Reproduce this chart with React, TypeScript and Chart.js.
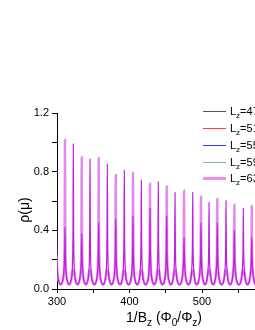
import React, { useEffect, useRef } from 'react';
import { Chart, registerables } from 'chart.js';

Chart.register(...registerables);

const FONT = "'Liberation Sans', Arial, sans-serif";

// Legend
const legendLabels = ['47', '51', '55', '59', '63'];
const legendColors = ['#555555', '#ff3b3b', '#3a3aff', '#6fb7ad', '#f08cf0'];
const legendWidths = [1, 1, 1, 1, 3];

// Tick labels
const xTickLabels = [300, 400, 500];
const yTickLabels = [0, 0.4, 0.8, 1.2];

// Peaks
const lightPeakX = [311.0, 334.1, 357.5, 381.0, 404.8, 428.3, 451.3, 475.2, 498.6, 521.1, 544.6, 568.6, 592.0];
const lightPeakY = [1.016, 0.898, 0.893, 0.777, 0.793, 0.72, 0.7, 0.67, 0.63, 0.616, 0.575, 0.566, 0.55];
const darkPeakX = [299.1, 322.5, 345.5, 369.4, 392.8, 416.3, 439.7, 462.8, 487.2, 509.7, 533.1, 557.0, 580.4];
const darkPeakY = [1.0, 0.989, 0.886, 0.852, 0.809, 0.743, 0.73, 0.657, 0.659, 0.589, 0.602, 0.55, 0.54];
// secondary peaks of the thin curve at the light positions
const thinAtLightY = [0.42, 0.38, 0.45, 0.48, 0.5, 0.55, 0.5, 0.35, 0.45, 0.45, 0.4, 0.35, 0.35];
// small bumps of the thick curve at the dark positions
const thickAtDarkY = [0.45, 0.1, 0.1, 0.1, 0.1, 0.1, 0.1, 0.1, 0.1, 0.1, 0.1, 0.1, 0.1];

const baseMin = 0.03;
const profileDx = [-3, -1.5, -0.5, 0, 0.5, 1.5, 3];
const profileBase = [0.06, 0.12, 0.14, 0.14, 0.14, 0.12, 0.06];
const profileFrac = [0, 0, 0.3, 1, 0.3, 0, 0];

type P = { x: number; h: number };

function buildCurve(peaks: P[]) {
  const sorted = [...peaks].sort((a, b) => a.x - b.x);
  const pts: { x: number; y: number }[] = [];
  sorted.forEach((p, i) => {
    if (i > 0) pts.push({ x: (sorted[i - 1].x + p.x) / 2, y: baseMin });
    profileDx.forEach((dx, k) => {
      const b = profileBase[k];
      pts.push({ x: p.x + dx, y: b + profileFrac[k] * (p.h - b) });
    });
  });
  return pts;
}

function drawSubText(
  ctx: CanvasRenderingContext2D,
  parts: { t: string; sub?: boolean }[],
  x: number,
  y: number,
  size: number,
  align: 'left' | 'center'
) {
  const subSize = Math.round(size * 0.7);
  let total = 0;
  parts.forEach((p) => {
    ctx.font = `${p.sub ? subSize : size}px ${FONT}`;
    total += ctx.measureText(p.t).width;
  });
  let cx = align === 'center' ? x - total / 2 : x;
  ctx.textAlign = 'left';
  ctx.textBaseline = 'alphabetic';
  parts.forEach((p) => {
    ctx.font = `${p.sub ? subSize : size}px ${FONT}`;
    ctx.fillText(p.t, cx, p.sub ? y + size * 0.28 : y);
    cx += ctx.measureText(p.t).width;
  });
}

const textPlugin = {
  id: 'textPlugin',
  afterDraw(chart: any) {
    const ctx: CanvasRenderingContext2D = chart.ctx;
    ctx.save();
    ctx.fillStyle = '#000';
    // x title
    drawSubText(
      ctx,
      [
        { t: '1/B' },
        { t: 'z', sub: true },
        { t: ' (\u03A6' },
        { t: '0', sub: true },
        { t: '/\u03A6' },
        { t: 'z', sub: true },
        { t: ')' },
      ],
      164,
      322,
      14,
      'center'
    );
    // y title
    ctx.save();
    ctx.translate(29, 210);
    ctx.rotate(-Math.PI / 2);
    ctx.font = `14px ${FONT}`;
    ctx.textAlign = 'center';
    ctx.textBaseline = 'alphabetic';
    ctx.fillText('\u03C1(\u03BC)', 0, 0);
    ctx.restore();
    // legend
    const rows = [111, 128, 145, 162, 178];
    legendLabels.forEach((lab, i) => {
      const y = rows[i];
      ctx.strokeStyle = legendColors[i];
      ctx.lineWidth = legendWidths[i];
      ctx.beginPath();
      ctx.moveTo(203, y + 0.5);
      ctx.lineTo(226, y + 0.5);
      ctx.stroke();
      ctx.fillStyle = '#000';
      drawSubText(ctx, [{ t: 'L' }, { t: 'z', sub: true }, { t: '=' + lab }], 230, y + 4, 11, 'left');
    });
    ctx.restore();
  },
};

export default function App() {
  const ref = useRef<HTMLCanvasElement>(null);
  useEffect(() => {
    if (!ref.current) return;
    const thick = buildCurve([
      ...lightPeakX.map((x, i) => ({ x, h: lightPeakY[i] })),
      ...darkPeakX.map((x, i) => ({ x, h: thickAtDarkY[i] })),
    ]);
    const thin = buildCurve([
      ...darkPeakX.map((x, i) => ({ x, h: darkPeakY[i] })),
      ...lightPeakX.map((x, i) => ({ x, h: thinAtLightY[i] })),
    ]);
    const chart = new Chart(ref.current, {
      type: 'line',
      data: {
        datasets: [
          {
            label: 'L_z=63',
            data: thick,
            borderColor: '#e487ee',
            borderWidth: 2.4,
            pointRadius: 0,
            cubicInterpolationMode: 'monotone',
            fill: false,
            order: 2,
          },
          {
            label: 'L_z=51',
            data: thin,
            borderColor: '#c01ee0',
            borderWidth: 1.2,
            pointRadius: 0,
            cubicInterpolationMode: 'monotone',
            fill: false,
            order: 1,
          },
        ],
      },
      options: {
        animation: false,
        responsive: false,
        maintainAspectRatio: false,
        layout: { padding: { left: 0, top: 113, right: 25.5, bottom: 0 } },
        plugins: { legend: { display: false }, tooltip: { enabled: false } },
        scales: {
          x: {
            type: 'linear',
            min: 300,
            max: 600,
            afterFit: (s: any) => {
              s.height = 41;
            },
            border: { color: '#000', width: 1 },
            grid: { drawOnChartArea: false, color: '#000', tickLength: 4 },
            ticks: {
              stepSize: 50,
              autoSkip: false,
              maxRotation: 0,
              color: '#000',
              padding: 2,
              font: { family: FONT, size: 11 },
              callback: (v: any) => (xTickLabels.some((l) => Math.abs(l - v) < 1e-6) ? String(v) : ''),
            },
          },
          y: {
            type: 'linear',
            min: 0,
            max: 1.2,
            afterFit: (s: any) => {
              s.width = 57;
            },
            border: { color: '#000', width: 1 },
            grid: { drawOnChartArea: false, color: '#000', tickLength: 5 },
            ticks: {
              stepSize: 0.2,
              autoSkip: false,
              color: '#000',
              padding: 3,
              font: { family: FONT, size: 11 },
              callback: (v: any) => {
                const l = yTickLabels.find((t) => Math.abs(t - v) < 1e-6);
                return l === undefined ? '' : l.toFixed(1);
              },
            },
          },
        },
      },
      plugins: [textPlugin],
    });
    return () => chart.destroy();
  }, []);
  return (
    <div style={{ position: 'absolute', left: 0, top: 0, width: 255, height: 330, overflow: 'hidden', background: '#fff' }}>
      <canvas ref={ref} width={300} height={330} style={{ display: 'block', width: 300, height: 330 }} />
    </div>
  );
}
